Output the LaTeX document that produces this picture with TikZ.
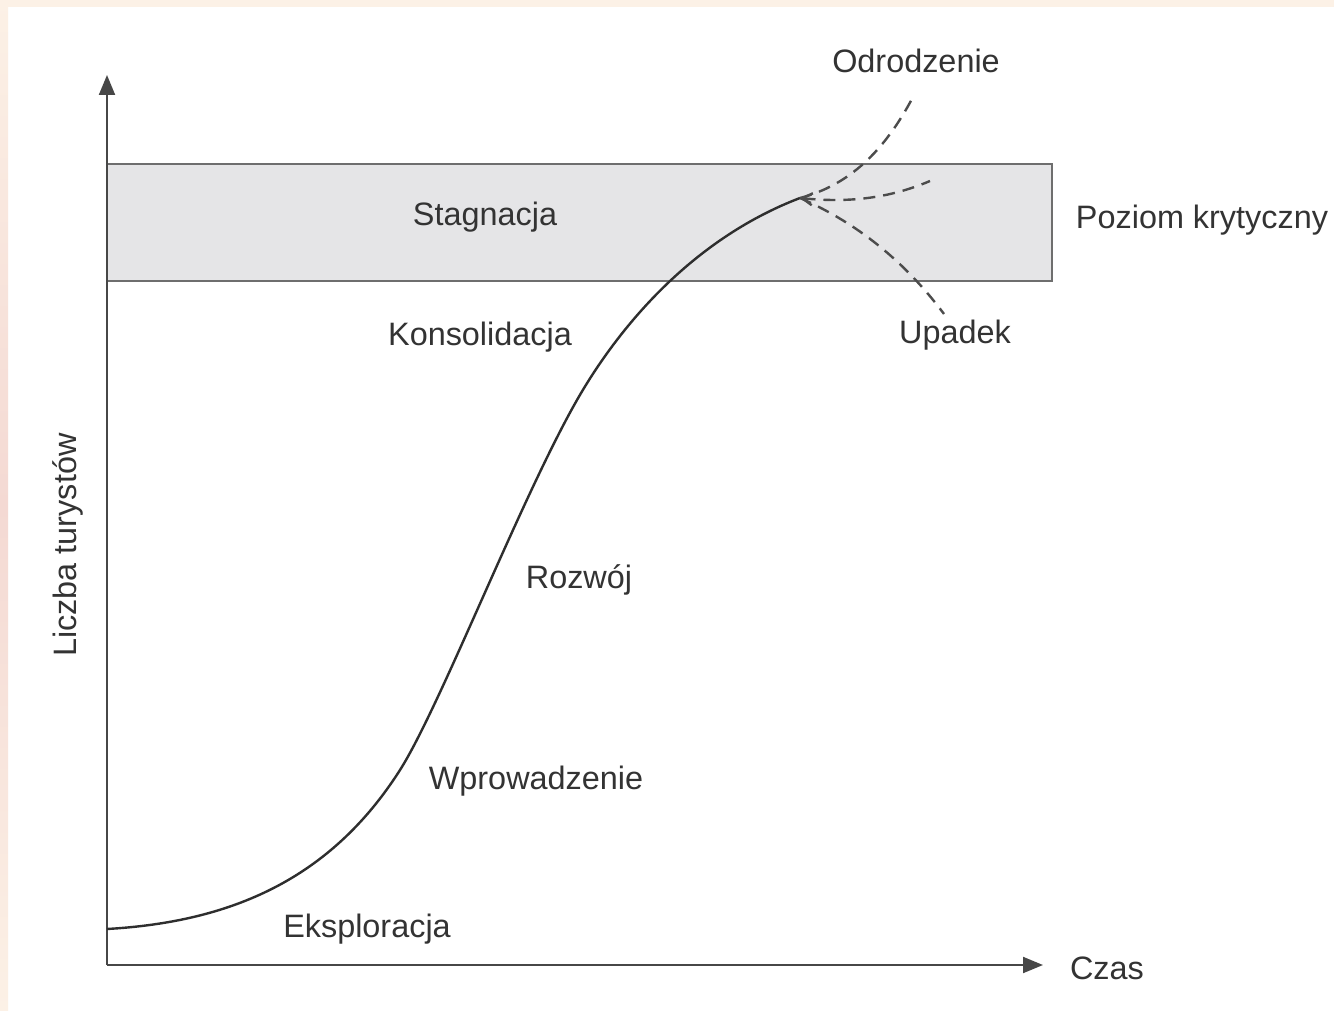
\documentclass[tikz,border=0pt]{standalone}
\usepackage{fontspec}
\setmainfont{Liberation Sans}
\usetikzlibrary{arrows.meta}

\definecolor{bandfill}{HTML}{E5E5E7}
\definecolor{bandedge}{HTML}{6E6E6E}
\definecolor{inkgray}{HTML}{333333}
\definecolor{curvegray}{HTML}{2E2E2E}
\definecolor{edgepink}{HTML}{F4D9D3}
\definecolor{edgecream}{HTML}{FCF1E6}

\begin{document}
\begin{tikzpicture}[x = 0.5pt, y = -0.5pt,
	stagetext/.style = {text = inkgray, inner sep = 0pt, font = \fontsize{16.2}{19}\selectfont},
	axis/.style = {solid, line width = 1pt, draw = black!72, -{Triangle[length = 10pt, width = 8pt]}},
	growth/.style = {solid, line width = 1.2pt, draw = curvegray},
	branch/.style = {dash pattern = on 6pt off 4pt, line width = 1.2pt, draw = black!70}]

	\useasboundingbox (0, 0) rectangle (1334, 1011);
	\fill[white] (0, 0) rectangle (1334, 1011);
	\shade[top color = edgecream, bottom color = edgecream, middle color = edgepink] (0, 0) rectangle (8, 1011);
	\fill[edgecream] (8, 0) rectangle (1334, 7);

	\draw[fill = bandfill, draw = bandedge, line width = 1pt] (107, 164) rectangle (1052, 281);

	\coordinate (origin) at (107, 965);
	\coordinate (ytip) at (107, 75);
	\coordinate (xtip) at (1043, 965);
	\draw[axis] (origin) -- (ytip);
	\draw[axis] (origin) -- (xtip);

	\coordinate (start) at (107, 929);
	\coordinate (takeoff) at (400, 770);
	\coordinate (boom) at (577, 400);
	\coordinate (peak) at (800, 198);
	\draw[growth] (start) .. controls (230, 922) and (330, 880) .. (takeoff)
		.. controls (440, 707) and (520, 500) .. (boom)
		.. controls (617, 330) and (690, 240) .. (peak);

	\coordinate (revival) at (913, 97);
	\coordinate (level) at (930, 181);
	\coordinate (decline) at (944, 314);
	\draw[branch] (peak) .. controls (850, 185) and (885, 150) .. (revival);
	\draw[branch, {Straight Barb[length = 5pt, width = 6pt]}-] (peak) .. controls (850, 203) and (890, 198) .. (level);
	\draw[branch] (peak) .. controls (850, 220) and (900, 255) .. (decline);

	\node[stagetext] (revivaltext) at (916, 61) {Odrodzenie};
	\node[stagetext] (declinetext) at (955, 335) {Upadek};
	\node[stagetext] (stagnation) at (485, 217) {Stagnacja};
	\node[stagetext] (critical) at (1202, 220) {Poziom krytyczny};
	\node[stagetext] (consolidation) at (480, 337) {Konsolidacja};
	\node[stagetext] (development) at (579, 580) {Rozwój};
	\node[stagetext] (involvement) at (536, 781) {Wprowadzenie};
	\node[stagetext] (exploration) at (367, 929) {Eksploracja};
	\node[stagetext] (xname) at (1107, 968) {Czas};
	\node[stagetext, rotate = 90] (yname) at (68, 545) {Liczba turystów};

\end{tikzpicture}
\end{document}
